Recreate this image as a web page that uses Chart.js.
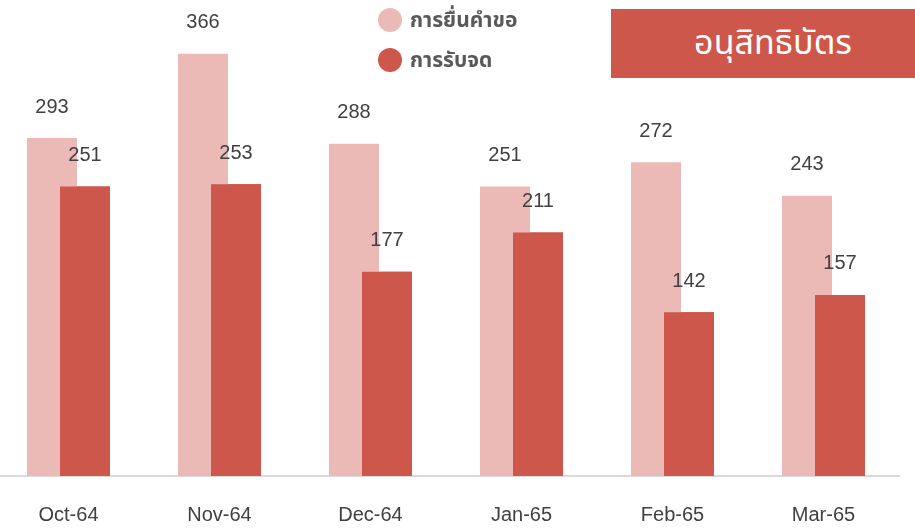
<!DOCTYPE html>
<html>
<head>
<meta charset="utf-8">
<script src="https://cdn.jsdelivr.net/npm/chart.js@4.4.1/dist/chart.umd.min.js"></script>
<style>
  html, body { margin:0; padding:0; background:#fff; }
  #wrap { position:relative; width:915px; height:528px; overflow:hidden; }
  #c { position:absolute; left:-7px; top:0; }
  #legend { position:absolute; left:378px; top:0px; font-family:'Noto Sans Thai','Tahoma','Noto Sans','DejaVu Sans',sans-serif; font-size:21px; font-weight:bold; color:#595959; }
  .li { display:flex; align-items:center; height:40px; }
  .dot { width:24px; height:24px; border-radius:50%; margin-right:8px; }
  #title { position:absolute; left:611px; top:9px; width:304px; height:69px; background:#CD574B; color:#fff;
    font-family:'Noto Sans Thai','Tahoma','Noto Sans','DejaVu Sans',sans-serif; font-size:34px; display:flex; align-items:center; justify-content:center; padding-left:20px; box-sizing:border-box; }
</style>
</head>
<body>
<div id="wrap">
  <canvas id="c" width="922" height="528"></canvas>
  <div id="legend"></div>
  <div id="title">อนุสิทธิบัตร</div>
</div>
<script>
const categories = ['Oct-64','Nov-64','Dec-64','Jan-65','Feb-65','Mar-65'];
const seriesNames = ['การยื่นคำขอ','การรับจด'];
const filings = [293, 366, 288, 251, 272, 243];
const grants = [251, 253, 177, 211, 142, 157];
const colors = ['#EBBAB6', '#CE574C'];

// legend as HTML
const lg = document.getElementById('legend');
seriesNames.forEach((n, i) => {
  const d = document.createElement('div'); d.className = 'li';
  const dot = document.createElement('span'); dot.className = 'dot'; dot.style.background = colors[i];
  const t = document.createElement('span'); t.textContent = n;
  d.appendChild(dot); d.appendChild(t); lg.appendChild(d);
});

const overlayPlugin = {
  id: 'overlay',
  afterDatasetsDraw(chart) {
    const ctx = chart.ctx;
    // redraw second series on top of the first
    const m1 = chart.getDatasetMeta(1);
    m1.data.forEach(el => el.draw(ctx));
    ctx.save();
    ctx.font = '20px "Liberation Sans", Arial, sans-serif';
    ctx.fillStyle = '#404040';
    ctx.textAlign = 'center';
    ctx.textBaseline = 'middle';
    [0, 1].forEach(di => {
      const meta = chart.getDatasetMeta(di);
      const data = chart.data.datasets[di].data;
      meta.data.forEach((el, i) => {
        ctx.fillText(String(data[i]), el.x, el.y - 31);
      });
    });
    ctx.restore();
  }
};

new Chart(document.getElementById('c'), {
  type: 'bar',
  data: {
    labels: categories,
    datasets: [
      { label: seriesNames[0], data: filings, backgroundColor: colors[0] },
      { label: seriesNames[1], data: grants, backgroundColor: colors[1] }
    ]
  },
  options: {
    responsive: false,
    animation: false,
    events: [],
    layout: { padding: { left: 0, right: 16, top: 14.6, bottom: 0 } },
    datasets: { bar: { categoryPercentage: 0.437, barPercentage: 1.515 } },
    plugins: { legend: { display: false }, tooltip: { enabled: false } },
    scales: {
      x: {
        offset: true,
        grid: { display: false, drawTicks: false },
        border: { display: true, color: '#D9D9D9', width: 2 },
        ticks: { color: '#404040', font: { family: '"Liberation Sans", Arial, sans-serif', size: 20 }, padding: 27, maxRotation: 0 },
        afterFit(s) { s.height = 52; }
      },
      y: { display: false, min: 0, max: 400 }
    }
  },
  plugins: [overlayPlugin]
});
</script>
</body>
</html>
